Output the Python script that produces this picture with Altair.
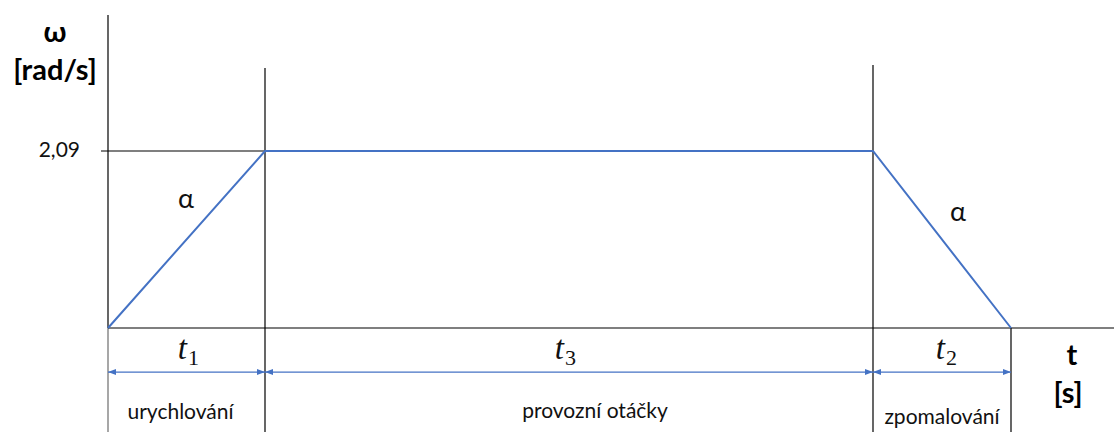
import altair as alt
import pandas as pd

# Speed profile: acceleration, constant speed, deceleration
phase_ends = [0.0, 1.57, 7.65, 9.03]       # t = 0, end of t1, end of t3, end of t2
omega_max = 2.09                            # rad/s
profile_t = [0.0, 1.57, 7.65, 9.03]
profile_w = [0.0, 2.09, 2.09, 0.0]

phase_names = ["urychlování", "provozní otáčky", "zpomalování"]
phase_symbols = ["1", "3", "2"]

X_DOM = [-1.08, 10.06]
Y_DOM = [-1.228, 3.873]
W, H = 1114, 432
BLUE = "#4472C4"
FONT = "Lato"
MATH = "Liberation Serif"
INK = "#111"

xs = alt.Scale(domain=X_DOM, nice=False, zero=False)
ys = alt.Scale(domain=Y_DOM, nice=False, zero=False)


def X(f):
    return alt.X(f"{f}:Q", scale=xs, axis=None)


def Y(f):
    return alt.Y(f"{f}:Q", scale=ys, axis=None)


def rules(df, color="black", width=1.0):
    return alt.Chart(df).mark_rule(color=color, strokeWidth=width).encode(
        x=X("x"), x2="x2", y=Y("y"), y2="y2"
    )


# frame lines: axes, phase dividers, 2,09 guide
black_lines = pd.DataFrame([
    dict(x=0.0, x2=0.0, y=0.0, y2=3.696),                       # omega axis
    dict(x=0.0, x2=X_DOM[1], y=0.0, y2=0.0),                    # time axis
    dict(x=-0.07, x2=phase_ends[1], y=omega_max, y2=omega_max),  # level guide
    dict(x=phase_ends[1], x2=phase_ends[1], y=Y_DOM[0], y2=3.07),
    dict(x=phase_ends[2], x2=phase_ends[2], y=Y_DOM[0], y2=3.105),
    dict(x=phase_ends[3], x2=phase_ends[3], y=Y_DOM[0], y2=0.0),
])
grey_lines = pd.DataFrame([dict(x=0.0, x2=0.0, y=Y_DOM[0], y2=0.0)])

profile = alt.Chart(pd.DataFrame({"t": profile_t, "w": profile_w})).mark_line(
    color=BLUE, strokeWidth=2
).encode(x=X("t"), y=Y("w"))

# duration arrows
arrow_y = -0.52
arrow_df = pd.DataFrame([
    dict(x=phase_ends[i], x2=phase_ends[i + 1], y=arrow_y, y2=arrow_y) for i in range(3)
])
arrow_lines = rules(arrow_df, color=BLUE, width=1.2)
heads_r = pd.DataFrame({"x": phase_ends[1:], "y": [arrow_y] * 3})
heads_l = pd.DataFrame({"x": phase_ends[:-1], "y": [arrow_y] * 3})
head_r = alt.Chart(heads_r).mark_point(
    shape="M0,0 L-2,-0.75 L-2,0.75 Z", filled=True, size=64, color=BLUE, opacity=1
).encode(x=X("x"), y=Y("y"))
head_l = alt.Chart(heads_l).mark_point(
    shape="M0,0 L2,-0.75 L2,0.75 Z", filled=True, size=64, color=BLUE, opacity=1
).encode(x=X("x"), y=Y("y"))


def text(df, **kw):
    return alt.Chart(df).mark_text(**kw).encode(x=X("x"), y=Y("y"), text="label:N")


# phase symbols t1, t3, t2
sym_x = [0.79, 4.56, 8.37]
t_main = text(
    pd.DataFrame({"x": sym_x, "y": [-0.366] * 3, "label": ["t"] * 3}),
    font=MATH, fontStyle="italic", fontSize=33, align="right", baseline="alphabetic",
    color=INK,
)
t_sub = text(
    pd.DataFrame({"x": [v + 0.01 for v in sym_x], "y": [-0.44] * 3, "label": phase_symbols}),
    font=MATH, fontSize=22, align="left", baseline="alphabetic", color=INK,
)

# phase names
names = text(
    pd.DataFrame({"x": [0.725, 4.87, 8.34], "y": [-1.075, -1.063, -1.13], "label": phase_names}),
    font=FONT, fontSize=21, align="center", baseline="alphabetic", color=INK,
)

# slope angle labels
alphas = text(
    pd.DataFrame({"x": [0.78, 8.50], "y": [1.51, 1.358], "label": ["α", "α"]}),
    font=FONT, fontSize=27, align="center", baseline="middle", color=INK,
)

# level value
level = text(
    pd.DataFrame({"x": [-0.28], "y": [omega_max], "label": ["2,09"]}),
    font=FONT, fontSize=21, align="right", baseline="middle", color=INK,
)

# axis titles
titles = text(
    pd.DataFrame({
        "x": [-0.53, -0.53, 9.64, 9.60],
        "y": [3.48, 3.03, -0.33, -0.78],
        "label": ["ω", "[rad/s]", "t", "[s]"],
    }),
    font=FONT, fontSize=29, fontWeight="bold", align="center", baseline="middle", color="black",
)

chart = alt.layer(
    rules(grey_lines, color="#8a8a8a", width=1.5),
    rules(black_lines, color="black", width=1.2),
    profile,
    arrow_lines, head_r, head_l,
    t_main, t_sub, names, alphas, level, titles,
).properties(
    width=W, height=H, autosize=alt.AutoSizeParams(type="none"), padding=0,
    background="white",
).configure_view(stroke=None)

chart.save("out.html", embed_options={"renderer": "svg", "actions": False})
